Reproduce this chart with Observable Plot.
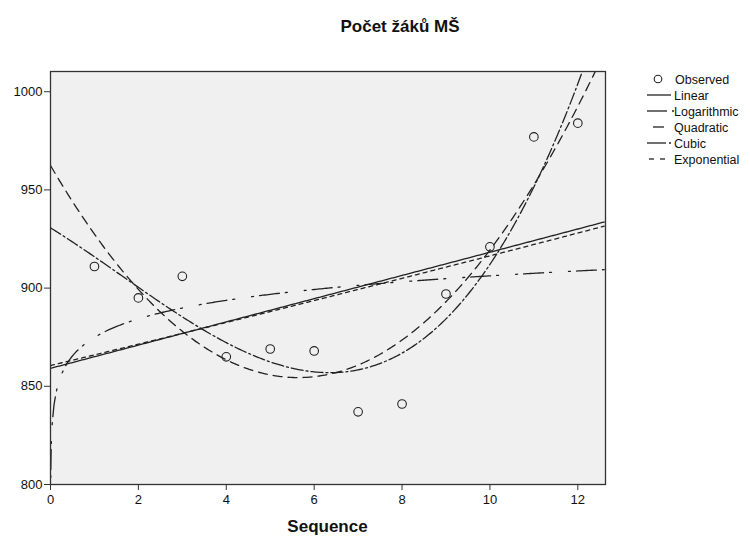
<!DOCTYPE html>
<html><head><meta charset="utf-8">
<script src="https://cdn.jsdelivr.net/npm/d3@7"></script>
<script src="https://cdn.jsdelivr.net/npm/@observablehq/plot@0.6"></script>
<style>
body{margin:0;background:#fff;font-family:"Liberation Sans",Arial,sans-serif;}
#wrap{position:relative;width:750px;height:540px;overflow:hidden;}
#title{position:absolute;left:0;width:800px;top:17px;text-align:center;font-weight:bold;font-size:17px;color:#111;}
#xlabel{position:absolute;left:0;width:655px;top:517px;text-align:center;font-weight:bold;font-size:17px;color:#111;}
#chart{position:absolute;left:0;top:0;}
#legend{position:absolute;left:0;top:0;}
</style></head>
<body>
<div id="wrap">
  <div id="chart"></div>
  <div id="title">Počet žáků MŠ</div>
  <div id="xlabel">Sequence</div>
  <svg id="legend" width="750" height="540"></svg>
</div>
<script>
// ---- data ----
const sequence = [1,2,3,4,5,6,7,8,9,10,11,12];
const observed = [911, 895, 906, 865, 869, 868, 837, 841, 897, 921, 977, 984];
const xTicks = [0,2,4,6,8,10,12];
const yTicks = [800,850,900,950,1000];
const xDomain = [0, 12.63];
const yDomain = [800, 1010.3];
const models = ["Linear","Logarithmic","Quadratic","Cubic","Exponential"];
const dashes = {Linear:null, Logarithmic:"2,6,20,6,2,17", Quadratic:"9,6", Cubic:"12,3,2,3", Exponential:"4,4"};

// ---- least squares fits (SPSS curve estimation) ----
function polyfit(xs, ys, deg){
  const n = deg+1;
  const A = Array.from({length:n},()=>new Array(n+1).fill(0));
  xs.forEach((x,k)=>{
    for(let i=0;i<n;i++){
      for(let j=0;j<n;j++) A[i][j]+=Math.pow(x,i+j);
      A[i][n]+=Math.pow(x,i)*ys[k];
    }
  });
  for(let i=0;i<n;i++){
    let p=i; for(let r=i+1;r<n;r++) if(Math.abs(A[r][i])>Math.abs(A[p][i])) p=r;
    [A[i],A[p]]=[A[p],A[i]];
    for(let r=0;r<n;r++){ if(r===i) continue; const f=A[r][i]/A[i][i]; for(let c=i;c<=n;c++) A[r][c]-=f*A[i][c]; }
  }
  return A.map((row,i)=>row[n]/row[i]);
}
const pv = (c,x)=>c.reduce((s,ci,i)=>s+ci*Math.pow(x,i),0);
const cLin = polyfit(sequence, observed, 1);
const cLog = polyfit(sequence.map(Math.log), observed, 1);
const cQuad = polyfit(sequence, observed, 2);
const cCub = polyfit(sequence, observed, 3);
const cExp = polyfit(sequence, observed.map(Math.log), 1);
const fns = {
  Linear: x=>pv(cLin,x),
  Logarithmic: x=>pv(cLog,Math.log(x)),
  Quadratic: x=>pv(cQuad,x),
  Cubic: x=>pv(cCub,x),
  Exponential: x=>Math.exp(pv(cExp,x))
};
const grid = d3.range(0, 12.64, 0.04);
const smallGrid = d3.range(-4, -1.3, 0.05).map(e=>Math.pow(10,e));
const fitted = [];
for(const m of models){
  const g = m==="Logarithmic" ? smallGrid.concat(grid.filter(x=>x>0.05)) : grid;
  for(const x of g){ const y=fns[m](x); if(isFinite(y)) fitted.push({model:m,x,y:Math.max(y,700)}); }
}
const obsData = sequence.map((s,i)=>({x:s,y:observed[i]}));

const ink = "#222";
const chart = Plot.plot({
  width:750, height:540,
  marginLeft:50, marginRight:145, marginTop:71, marginBottom:56,
  style:{fontFamily:"'Liberation Sans', Arial, sans-serif", fontSize:"13px", color:"#111", background:"transparent"},
  x:{domain:xDomain, label:null},
  y:{domain:yDomain, label:null},
  marks:[
    Plot.frame({fill:"#f0f0f0", stroke:"none"}),
    ...models.map(m=>Plot.line(fitted.filter(d=>d.model===m), {x:"x", y:"y", stroke:ink, strokeWidth:1.3, strokeDasharray:dashes[m], clip:true, curve:"linear"})),
    Plot.dot(obsData, {x:"x", y:"y", r:4.3, stroke:ink, strokeWidth:1.1, fill:"none"}),
    Plot.frame({stroke:"#333", strokeWidth:1.3}),
    Plot.axisX({ticks:xTicks, tickFormat:d3.format("d"), tickSize:6, tickPadding:4, stroke:"#333"}),
    Plot.axisY({ticks:yTicks, tickFormat:d3.format("d"), tickSize:6, tickPadding:2, stroke:"#333"})
  ]
});
document.getElementById("chart").appendChild(chart);

// ---- legend ----
const lg = d3.select("#legend");
const rows = [{name:"Observed"}].concat(models.map(m=>({name:m})));
const swatch = {
  Linear:[[647,671]], Logarithmic:[[647,667],[672,674]], Quadratic:[[653,664]],
  Cubic:[[647,666],[669,671]], Exponential:[[649,654],[660,665]]
};
rows.forEach((r,i)=>{
  const y = 79 + i*16;
  if(r.name==="Observed"){
    lg.append("circle").attr("cx",658).attr("cy",y).attr("r",3.8).attr("fill","none").attr("stroke",ink).attr("stroke-width",1.1);
  } else {
    swatch[r.name].forEach(([a,b])=>lg.append("line").attr("x1",a).attr("x2",b).attr("y1",y).attr("y2",y).attr("stroke",ink).attr("stroke-width",1.3));
  }
  lg.append("text").attr("x", r.name==="Observed"?675:674).attr("y",y+4.5).attr("font-size","12.5px").attr("fill","#111")
    .attr("font-family","'Liberation Sans', Arial, sans-serif").text(r.name);
});
</script>
</body></html>
